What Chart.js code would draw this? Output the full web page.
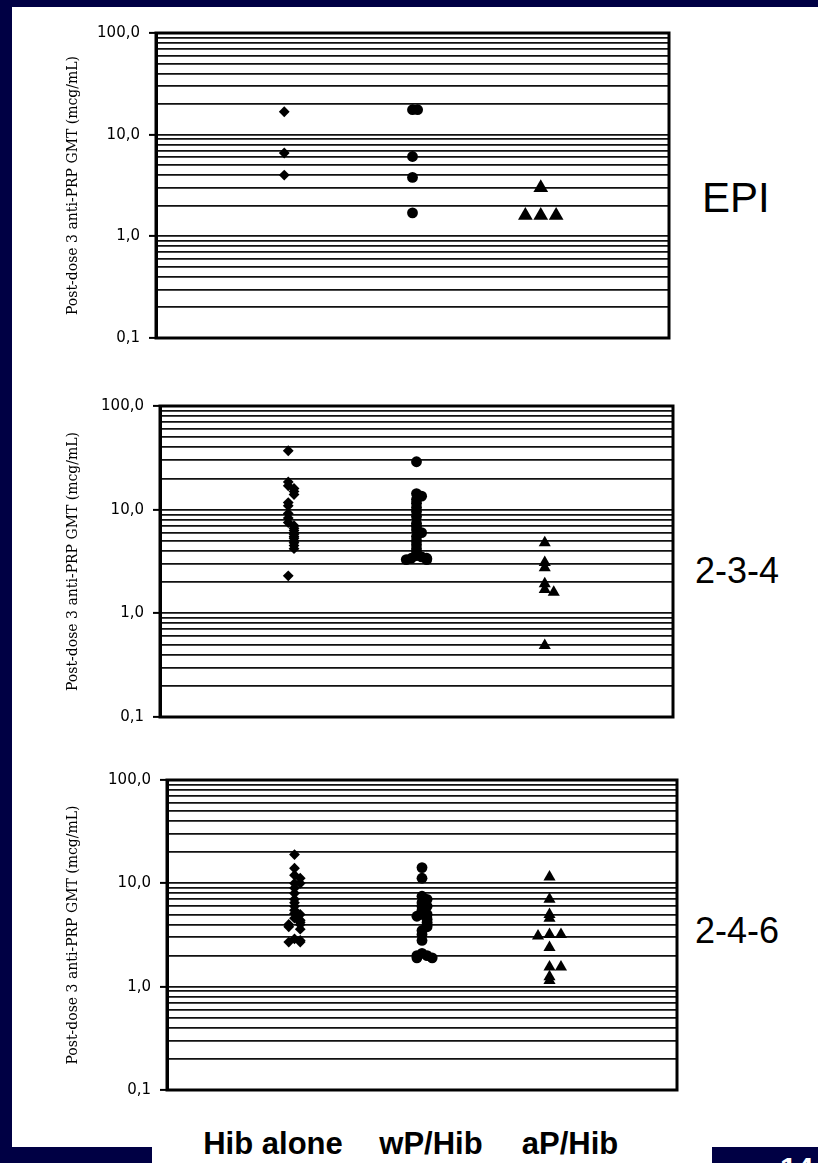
<!DOCTYPE html>
<html>
<head>
<meta charset="utf-8">
<script src="https://cdn.jsdelivr.net/npm/chart.js@4"></script>
<style>
    body { margin: 0; width: 818px; height: 1163px; background: #000044; position: relative; overflow: hidden; font-family: 'Liberation Sans', Arial, sans-serif; }
    .blanc { position: absolute; background: #fff; }
    .boite { position: absolute; }
    .etiquette { position: absolute; line-height: 1; color: #000; white-space: nowrap; }
    .groupe { position: absolute; width: 200px; text-align: center; line-height: 1; font-weight: bold; font-size: 31px; color: #000; }
</style>
</head>
<body>
<div class="blanc" style="left:12px; top:7px; width:806px; height:1140px;"></div>
<div class="blanc" style="left:152px; top:1140px; width:560px; height:23px;"></div>

<div class="boite" style="left:20px; top:13px; width:659px; height:345px;"><canvas id="grapheEpi"></canvas></div>
<div class="boite" style="left:20px; top:386px; width:663px; height:351px;"><canvas id="graphe234"></canvas></div>
<div class="boite" style="left:20px; top:760px; width:667px; height:350px;"><canvas id="graphe246"></canvas></div>

<div class="etiquette" id="panneau0" style="left:702px; top:177px; font-size:42px;"></div>
<div class="etiquette" id="panneau1" style="left:695px; top:553px; font-size:36px;"></div>
<div class="etiquette" id="panneau2" style="left:695px; top:913px; font-size:36px;"></div>

<div class="groupe" id="groupe0" style="left:173px; top:1128px;"></div>
<div class="groupe" id="groupe1" style="left:331px; top:1128px;"></div>
<div class="groupe" id="groupe2" style="left:470px; top:1128px;"></div>

<div class="etiquette" style="left:780px; top:1153px; font-size:30px; font-weight:bold; color:#fff;">14</div>

<script>
// Catégories et panneaux
var groupes = ['Hib alone', 'wP/Hib', 'aP/Hib'];
var panneaux = ['EPI', '2-3-4', '2-4-6'];
var titreY = 'Post-dose 3 anti-PRP GMT (mcg/mL)';

// Graduations de l'axe Y (log)
var majeurs = [0.1, 1, 10, 100];
var etiquettesY = ['0,1', '1,0', '10,0', '100,0'];

// EPI
var epiHib = [16.8, 6.6, 4.0];
var epiWP = [17.6, 17.6, 6.1, 3.8, 1.7];
var epiAP = [3.0, 1.6, 1.6, 1.6];

// 2-3-4
var s234Hib = [37, 18.5, 17, 16, 15, 14, 11.7, 10.9, 9.2, 8.3, 7.5, 7, 6.6, 6.3, 6, 5.8, 5.5, 5.3, 5, 4.8, 4.5, 4.2, 2.3];
var s234WP = [29, 14.3, 13.5, 12.5, 11.5, 10.5, 9.6, 8.6, 7.4, 6.9, 6.4, 6, 5.5, 5, 4.6, 4.2, 3.9, 3.6, 3.5, 3.4, 3.4, 3.3, 3.3];
var s234AP = [4.8, 3.1, 2.75, 1.93, 1.7, 1.6, 0.49];

// 2-4-6
var s246Hib = [19, 14, 12, 11.2, 10, 10, 9, 8, 7, 6.5, 6, 5.5, 5.1, 5, 4.6, 4.4, 4.2, 4, 4, 3.8, 3.6, 2.9, 2.8, 2.7, 2.7];
var s246WP = [14.2, 11.2, 7.5, 7, 6.5, 6, 6, 5.5, 5, 5, 4.8, 4.5, 4.2, 4, 3.8, 3.5, 3.2, 2.8, 2.1, 2, 2, 1.9, 1.9];
var s246AP = [11.5, 7, 5, 4.6, 3.2, 3.2, 3.1, 2.4, 1.55, 1.55, 1.25, 1.15];

// Remplir les textes
panneaux.forEach(function (p, i) { document.getElementById('panneau' + i).textContent = p; });
groupes.forEach(function (g, i) { document.getElementById('groupe' + i).textContent = g; });

// Lignes de la grille : 1..9 x chaque décade
function lignesLog() {
    var lignes = [];
    for (var e = -1; e <= 1; e++) {
        for (var m = 1; m <= 9; m++) {
            lignes.push(m * Math.pow(10, e));
        }
    }
    lignes.push(100);
    return lignes;
}

function estMajeur(v) {
    return majeurs.findIndex(function (t) { return Math.abs(t - v) < 1e-9; });
}

// Décaler horizontalement les points qui se superposent
function nuage(valeurs, centre, pas) {
    var places = [];
    return valeurs.map(function (v) {
        var lv = Math.log10(v);
        var proches = places.filter(function (p) { return Math.abs(p - lv) < 0.03; }).length;
        places.push(lv);
        var cote = proches % 2 ? 1 : -1;
        var decal = proches ? Math.ceil(proches / 2) * cote * pas : 0;
        return { x: centre + decal, y: v };
    });
}

// Cadre autour de la zone de tracé
var cadre = {
    id: 'cadre',
    beforeDatasetsDraw: function (chart) {
        var a = chart.chartArea;
        var ctx = chart.ctx;
        ctx.save();
        ctx.strokeStyle = '#000';
        ctx.lineWidth = 3;
        ctx.strokeRect(a.left, a.top, a.right - a.left, a.bottom - a.top);
        ctx.restore();
    }
};

function creerGraphique(id, series, largeurAxe, rayonTriangle, pasTriangle) {
    var ctx = document.getElementById(id).getContext('2d');
    var styles = ['rectRot', 'circle', 'triangle'];
    var rayons = [5.4, 5.4, rayonTriangle];
    var pas = [0.045, 0.04, pasTriangle];

    var jeux = series.map(function (s, i) {
        return {
            label: groupes[i],
            data: nuage(s, i + 1, pas[i]),
            pointStyle: styles[i],
            pointRadius: rayons[i],
            backgroundColor: '#000',
            borderColor: '#000',
            borderWidth: 0
        };
    });

    return new Chart(ctx, {
        type: 'scatter',
        data: { datasets: jeux },
        plugins: [cadre],
        options: {
            responsive: true,
            maintainAspectRatio: false,
            animation: false,
            layout: { padding: { top: 20, bottom: 20, left: 0, right: 10 } },
            plugins: {
                legend: { display: false },
                tooltip: { enabled: false }
            },
            scales: {
                x: { type: 'linear', min: 0, max: 4, display: false },
                y: {
                    type: 'logarithmic',
                    min: 0.1,
                    max: 100,
                    afterFit: function (scale) { scale.width = largeurAxe; },
                    afterBuildTicks: function (scale) {
                        scale.ticks = lignesLog().map(function (v) { return { value: v }; });
                    },
                    ticks: {
                        autoSkip: false,
                        padding: 9,
                        color: '#000',
                        font: { family: 'DejaVu Sans', size: 15 },
                        callback: function (value) {
                            var i = estMajeur(value);
                            return i >= 0 ? etiquettesY[i] : '';
                        }
                    },
                    grid: {
                        color: '#111',
                        lineWidth: 1.8,
                        drawTicks: true,
                        tickLength: 7,
                        tickWidth: 2,
                        tickColor: function (c) {
                            return c.tick && estMajeur(c.tick.value) >= 0 ? '#000' : 'rgba(0,0,0,0)';
                        }
                    },
                    border: { display: true, color: '#000', width: 3 },
                    title: {
                        display: true,
                        text: titreY,
                        color: '#000',
                        font: { family: 'DejaVu Serif', size: 14 },
                        padding: { top: 45, bottom: 0 }
                    }
                }
            }
        }
    });
}

creerGraphique('grapheEpi', [epiHib, epiWP, epiAP], 136, 8.5, 0.12);
creerGraphique('graphe234', [s234Hib, s234WP, s234AP], 140, 7, 0.07);
creerGraphique('graphe246', [s246Hib, s246WP, s246AP], 147, 7, 0.09);
</script>
</body>
</html>
